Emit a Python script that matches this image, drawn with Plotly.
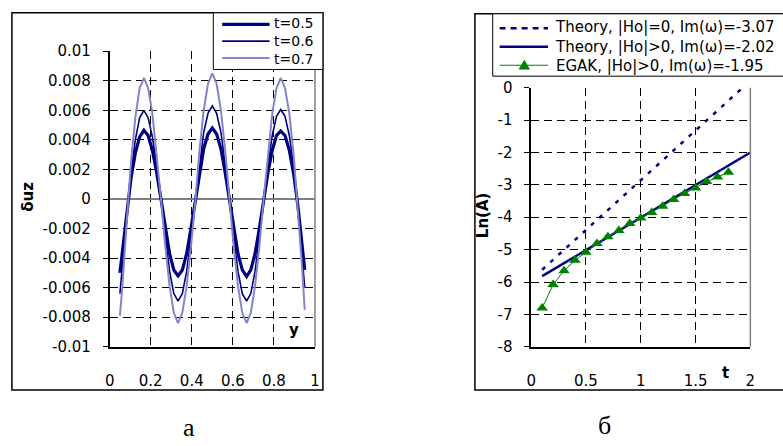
import plotly.graph_objects as go

W, H = 783, 446

# ---------------- panel a data ----------------
y_pos = [0.05, 0.0625, 0.083, 0.104, 0.125, 0.146, 0.167, 0.1875, 0.208, 0.229,
         0.25, 0.271, 0.292, 0.3125, 0.333, 0.354, 0.375, 0.396, 0.417, 0.4375,
         0.458, 0.479, 0.5, 0.521, 0.542, 0.5625, 0.583, 0.604, 0.625, 0.646,
         0.667, 0.6875, 0.708, 0.729, 0.75, 0.771, 0.792, 0.8125, 0.833, 0.854,
         0.875, 0.896, 0.917, 0.9375, 0.95]
duz_t05 = [-0.0050, -0.0035, -0.0010, 0.0014, 0.0031, 0.0042, 0.00465, 0.0043, 0.0033, 0.0018,
           0.0000, -0.0020, -0.0037, -0.0048, -0.0052, -0.0048, -0.0037, -0.0020, -0.0002, 0.0018,
           0.0034, 0.0044, 0.0048, 0.0044, 0.0034, 0.0018, 0.0000, -0.0020, -0.0037, -0.0048,
           -0.00525, -0.0048, -0.0037, -0.0020, 0.0000, 0.0018, 0.0033, 0.0043, 0.0046, 0.0043,
           0.0033, 0.0017, -0.0005, -0.0030, -0.0048]
duz_t06 = [-0.0064, -0.0046, -0.0013, 0.0018, 0.0040, 0.0055, 0.0060, 0.0055, 0.0042, 0.0023,
           0.0000, -0.0026, -0.0049, -0.0064, -0.0069, -0.0064, -0.0049, -0.0026, -0.0002, 0.0024,
           0.0045, 0.0058, 0.0063, 0.0058, 0.0045, 0.0024, 0.0000, -0.0026, -0.0049, -0.0064,
           -0.0069, -0.0064, -0.0049, -0.0026, 0.0000, 0.0023, 0.0043, 0.0056, 0.00606, 0.0056,
           0.0043, 0.0022, -0.0006, -0.0038, -0.0060]
duz_t07 = [-0.0079, -0.0058, -0.0016, 0.0025, 0.0055, 0.0075, 0.0082, 0.0075, 0.0058, 0.0031,
           0.0000, -0.0032, -0.0059, -0.0077, -0.0084, -0.0077, -0.0059, -0.0032, -0.0002, 0.0033,
           0.0060, 0.0078, 0.0085, 0.0078, 0.0060, 0.0033, 0.0000, -0.0032, -0.0059, -0.0077,
           -0.0084, -0.0077, -0.0059, -0.0032, 0.0000, 0.0031, 0.0058, 0.0075, 0.0082, 0.0075,
           0.0058, 0.0030, -0.0008, -0.0047, -0.0075]
names_a = ["t=0.5", "t=0.6", "t=0.7"]

xa_ticks = [0, 0.2, 0.4, 0.6, 0.8, 1]
xa_labels = ["0", "0.2", "0.4", "0.6", "0.8", "1"]
xa_grid = [0.2, 0.4, 0.6, 0.8]
ya_ticks = [0.01, 0.008, 0.006, 0.004, 0.002, 0, -0.002, -0.004, -0.006, -0.008, -0.01]
ya_labels = ["0.01", "0.008", "0.006", "0.004", "0.002", "0", "-0.002", "-0.004", "-0.006", "-0.008", "-0.01"]
ya_grid = [0.008, 0.006, 0.004, 0.002, -0.002, -0.004, -0.006, -0.008]

# ---------------- panel b data ----------------
th0_t = [0.1, 1.93]
th0_ln = [-5.62, 0.0]
th1_t = [0.1, 2.0]
th1_ln = [-5.82, -2.0]
egak_t = [0.1, 0.2, 0.3, 0.4, 0.5, 0.6, 0.7, 0.8, 0.9, 1.0, 1.1, 1.2, 1.3, 1.4, 1.5, 1.6, 1.7, 1.8]
egak_ln = [-6.8, -6.08, -5.65, -5.33, -5.08, -4.81, -4.60, -4.41, -4.19, -4.02,
           -3.85, -3.66, -3.45, -3.27, -3.10, -2.90, -2.76, -2.61]
names_b = ["Theory, |Ho|=0, Im(ω)=-3.07", "Theory, |Ho|>0, Im(ω)=-2.02", "EGAK, |Ho|>0, Im(ω)=-1.95"]

xb_ticks = [0, 0.5, 1, 1.5, 2]
xb_labels = ["0", "0.5", "1", "1.5", "2"]
xb_grid = [0.5, 1, 1.5]
yb_ticks = [0, -1, -2, -3, -4, -5, -6, -7, -8]
yb_labels = ["0", "-1", "-2", "-3", "-4", "-5", "-6", "-7", "-8"]
yb_grid = [-1, -2, -3, -4, -5, -6, -7]

# ---------------- styles ----------------
NAVY = "#000080"
LIGHT = "#8484C8"
GREEN = "#008000"
FONT = "DejaVu Sans, Arial, sans-serif"
SERIF = "Liberation Serif, Times New Roman, serif"
GRID = dict(showgrid=True, gridcolor="#000000", gridwidth=1, griddash="8px,5px", ticks="")


def px(x):
    return x / W


def py(y):
    return 1 - y / H


fig = go.Figure()
styles_a = [dict(color=NAVY, width=3.2), dict(color=NAVY, width=1.6), dict(color=LIGHT, width=2)]
for name, vals, st in zip(names_a, [duz_t05, duz_t06, duz_t07], styles_a):
    fig.add_trace(go.Scatter(x=y_pos, y=vals, mode="lines", name=name, line=st,
                             xaxis="x", yaxis="y", showlegend=False))

fig.add_trace(go.Scatter(x=th0_t, y=th0_ln, mode="lines", name=names_b[0],
                         line=dict(color=NAVY, width=2.5, dash="4px,7px"),
                         xaxis="x2", yaxis="y2", showlegend=False))
fig.add_trace(go.Scatter(x=th1_t, y=th1_ln, mode="lines", name=names_b[1],
                         line=dict(color=NAVY, width=2.5),
                         xaxis="x2", yaxis="y2", showlegend=False))
fig.add_trace(go.Scatter(x=egak_t, y=egak_ln, mode="lines+markers", name=names_b[2],
                         line=dict(color=GREEN, width=1),
                         marker=dict(symbol="triangle-up", size=10, color=GREEN),
                         xaxis="x2", yaxis="y2", showlegend=False))

tickfont = dict(family=FONT, size=15, color="black")

fig.update_layout(
    width=W, height=H, margin=dict(l=0, r=0, t=0, b=0),
    paper_bgcolor="white", plot_bgcolor="white", showlegend=False,
    xaxis=dict(domain=[px(106), px(314)], range=[0, 1], anchor="y",
               showline=True, linecolor="black", linewidth=1.5, ticks="",
               tickmode="array", tickvals=xa_ticks, ticktext=xa_labels,
               showgrid=False, zeroline=False, tickfont=tickfont, ticklabelstandoff=19,
               minor=dict(tickvals=xa_grid, **GRID)),
    yaxis=dict(domain=[py(352), py(44)], range=[-0.01, 0.01], anchor="x",
               showline=True, linecolor="black", linewidth=1.5,
               ticks="outside", ticklen=5, tickcolor="black",
               tickmode="array", tickvals=ya_ticks, ticktext=ya_labels,
               showgrid=False, zeroline=True, zerolinecolor="#808080", zerolinewidth=2,
               tickfont=tickfont, ticklabelstandoff=9,
               minor=dict(tickvals=ya_grid, **GRID)),
    xaxis2=dict(domain=[px(533), px(755)], range=[0, 2], anchor="y2",
                showline=True, linecolor="black", linewidth=1.5, ticks="",
                tickmode="array", tickvals=xb_ticks, ticktext=xb_labels,
                showgrid=False, zeroline=False, tickfont=tickfont, ticklabelstandoff=19,
                minor=dict(tickvals=xb_grid, **GRID)),
    yaxis2=dict(domain=[py(352), py(82)], range=[-8, 0], anchor="x2",
                showline=True, linecolor="black", linewidth=1.5,
                ticks="outside", ticklen=5, tickcolor="black",
                tickmode="array", tickvals=yb_ticks, ticktext=yb_labels,
                showgrid=False, zeroline=False, tickfont=tickfont, ticklabelstandoff=9,
                minor=dict(tickvals=yb_grid, **GRID)),
)

shapes = []
# gray right border of each plot area
for xr, yr in (("x", "y"), ("x2", "y2")):
    shapes.append(dict(type="line", xref=xr + " domain", yref=yr + " domain",
                       x0=1, x1=1, y0=0, y1=1, line=dict(color="#808080", width=1.5)))
# outer frames
shapes.append(dict(type="rect", xref="paper", yref="paper", x0=px(7), x1=px(322),
                   y0=py(397), y1=py(4), line=dict(color="black", width=1.5)))
shapes.append(dict(type="rect", xref="paper", yref="paper", x0=px(476), x1=px(800),
                   y0=py(397), y1=py(5), line=dict(color="black", width=1.5)))
# legend boxes
shapes.append(dict(type="rect", xref="paper", yref="paper", x0=px(211), x1=px(322),
                   y0=py(63), y1=py(4), line=dict(color="black", width=1), fillcolor="white"))
shapes.append(dict(type="rect", xref="paper", yref="paper", x0=px(494), x1=px(800),
                   y0=py(70), y1=py(5), line=dict(color="black", width=1), fillcolor="white"))

annotations = []
# legend a: sample lines + one multi-line text block
leg_rows_a = [16, 33.5, 51]
for st, yy in zip(styles_a, leg_rows_a):
    shapes.append(dict(type="line", xref="paper", yref="paper", x0=px(220), x1=px(268),
                       y0=py(yy), y1=py(yy), line=st))
annotations.append(dict(text="<br>".join(names_a), x=px(270), y=py(33.5), xref="paper", yref="paper",
                        xanchor="left", yanchor="middle", align="left", showarrow=False,
                        font=dict(family=FONT, size=14, color="black")))

# legend b
leg_rows_b = [20, 39.3, 58.6]
leg_styles_b = [dict(color=NAVY, width=2.5, dash="6px,5px"), dict(color=NAVY, width=2.5),
                dict(color=GREEN, width=1)]
for st, yy in zip(leg_styles_b, leg_rows_b):
    shapes.append(dict(type="line", xref="paper", yref="paper", x0=px(501), x1=px(550),
                       y0=py(yy), y1=py(yy), line=st))
annotations.append(dict(text="<br>".join(names_b), x=px(555), y=py(39.3), xref="paper", yref="paper",
                        xanchor="left", yanchor="middle", align="left", showarrow=False,
                        font=dict(family=FONT, size=15, color="black")))
cx, cy = 526, leg_rows_b[2]
shapes.append(dict(type="path", xref="paper", yref="paper",
                   path=f"M{px(cx)},{py(cy - 5)} L{px(cx + 5)},{py(cy + 4)} L{px(cx - 5)},{py(cy + 4)} Z",
                   fillcolor=GREEN, line=dict(color=GREEN, width=1)))

# axis titles and captions
titles = [
    dict(text="<b>δuz</b>", x=px(23), y=py(196), textangle=-90),
    dict(text="<b>y</b>", x=px(293), y=py(335)),
    dict(text="<b>Ln(A)</b>", x=px(485), y=py(215), textangle=-90),
    dict(text="<b>t</b>", x=px(730), y=py(379)),
]
for a in titles:
    a.update(xref="paper", yref="paper", xanchor="center", yanchor="middle", showarrow=False,
             font=dict(family=FONT, size=15, color="black"))
annotations += titles
annotations += [
    dict(text="а", x=px(186), y=py(436), xref="paper", yref="paper", showarrow=False,
         xanchor="center", yanchor="middle", font=dict(family=SERIF, size=26, color="black")),
    dict(text="б", x=px(607), y=py(434), xref="paper", yref="paper", showarrow=False,
         xanchor="center", yanchor="middle", font=dict(family=SERIF, size=26, color="black")),
]

fig.update_layout(shapes=shapes, annotations=annotations)
fig.write_html("out.html")
